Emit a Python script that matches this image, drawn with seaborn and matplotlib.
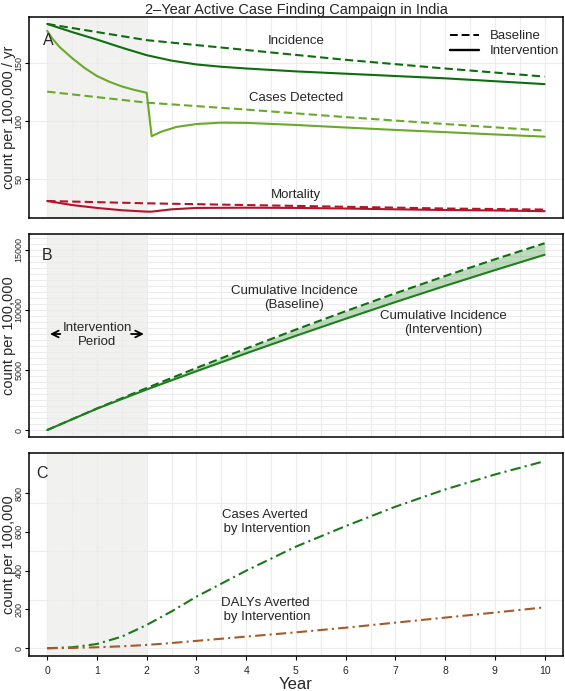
import numpy as np
import pandas as pd
import matplotlib
matplotlib.use("Agg")
import matplotlib.pyplot as plt
from matplotlib.lines import Line2D
import seaborn as sns

sns.set_theme(style="white")
plt.rcParams['font.family'] = ['Liberation Sans', 'DejaVu Sans']

# ---- panel A: annual rates ----
inc_base_t = [0, 2, 4, 6, 8, 10]
inc_base = [184, 170, 161.5, 153, 145.5, 138.5]
inc_int_t = [0, 0.5, 1, 1.5, 2, 2.5, 3, 3.5, 4, 5, 6, 7, 8, 9, 10]
inc_int = [184, 177, 170.5, 163.5, 157, 152.3, 149, 147, 145.5, 143, 141, 139, 137, 134.5, 132]

det_base_t = [0, 2, 4, 6, 8, 10]
det_base = [125.5, 116, 110, 103.5, 97.5, 91.8]
det_int_t = [0, 0.1, 0.25, 0.5, 0.75, 1, 1.25, 1.5, 1.75, 2, 2.1, 2.3, 2.6, 3, 3.5, 4, 5, 6, 7, 8, 9, 10]
det_int = [178, 171.5, 164, 154.5, 146, 139, 134, 130, 127, 124.5, 87, 91, 95, 97.5, 98.7, 98.5,
           96.7, 94.5, 92.4, 90.5, 88.5, 86.6]

mort_base_t = [0, 2, 4, 6, 8, 10]
mort_base = [31, 29, 27.5, 26, 24.5, 23.6]
mort_int_t = [0, 0.5, 1, 1.5, 2, 2.1, 2.5, 3, 4, 5, 6, 7, 8, 9, 10]
mort_int = [31, 27.5, 25, 23, 21.8, 21.8, 23.8, 25, 25.2, 25, 24.5, 23.8, 23.2, 22.8, 22.2]

# ---- panel B: cumulative incidence ----
years = list(range(11))
cum_base = [0, 1800, 3500, 5170, 6790, 8370, 9900, 11390, 12830, 14220, 15560]
cum_int = [0, 1780, 3380, 4900, 6390, 7850, 9270, 10660, 12010, 13320, 14600]

# ---- panel C: averted ----
avert_t = [0, 0.5, 1, 1.5, 2, 2.5, 3, 4, 5, 6, 7, 8, 9, 10]
cases_averted = [0, 5, 22, 60, 120, 190, 266, 400, 524, 630, 730, 819, 896, 965]
dalys_averted = [0, 1.5, 5, 10, 17, 27, 38, 60, 82, 106, 132, 158, 184, 211]

dark_green = '#0e6e0e'
light_green = '#69a92b'
red = '#b3142a'
brown = '#a65a28'
grid_col = '#ececec'
dash = (4, 2)
dashdot = (5, 2, 1, 2)

fig = plt.figure(figsize=(5.65, 6.91), dpi=100)
L, W = 29 / 565, 534 / 565
axA = fig.add_axes([L, 1 - 218 / 691, W, 201 / 691])
axB = fig.add_axes([L, 1 - 437 / 691, W, 203 / 691])
axC = fig.add_axes([L, 1 - 656 / 691, W, 203 / 691])


def line(ax, t, v, color, dashes=None, lw=1.5):
    df = pd.DataFrame({'t': t, 'v': v})
    sns.lineplot(data=df, x='t', y='v', ax=ax, color=color, lw=lw, zorder=3)
    if dashes is not None:
        ax.lines[-1].set_dashes(dashes)


def finish_axes(ax, ylim, hgrid, yticks, ylabel):
    ax.set_xlim(-0.366, 10.37)
    ax.set_ylim(*ylim)
    ax.axvspan(0, 2, color='#f1f1f0', zorder=0, lw=0)
    for xv in np.arange(0, 10.01, 0.5):
        ax.axvline(xv, color=grid_col, lw=0.8, zorder=0.5)
    for yv in hgrid:
        ax.axhline(yv, color=grid_col, lw=0.8, zorder=0.5)
    for s in ax.spines.values():
        s.set_color('black')
        s.set_linewidth(1.1)
    ax.tick_params(axis='y', which='major', direction='out', length=3, width=0.8,
                   color='black', labelsize=6.5, left=True, pad=1)
    ax.set_xticks(range(11))
    ax.set_yticks(yticks)
    ax.set_yticklabels([str(v) for v in yticks], rotation=90, va='center')
    ax.set_xlabel('')
    ax.set_ylabel(ylabel, fontsize=10.5)
    ax.yaxis.set_label_coords(-0.025, 0.5)


# panel A
line(axA, inc_base_t, inc_base, dark_green, dash)
line(axA, inc_int_t, inc_int, dark_green)
line(axA, det_base_t, det_base, light_green, dash)
line(axA, det_int_t, det_int, light_green)
line(axA, mort_base_t, mort_base, red, dash)
line(axA, mort_int_t, mort_int, red)
finish_axes(axA, (16.3, 190), [50, 100, 150], [50, 100, 150], 'count per 100,000 / yr')
axA.tick_params(axis='x', bottom=False, labelbottom=False)
axA.text(5, 169, 'Incidence', ha='center', va='center', fontsize=9.5)
axA.text(5, 119.7, 'Cases Detected', ha='center', va='center', fontsize=9.5)
axA.text(5, 36, 'Mortality', ha='center', va='center', fontsize=9.5)
axA.text(0.03, 170, 'A', ha='center', va='center', fontsize=11.5)
handles = [Line2D([0], [0], color='black', lw=1.4, dashes=dash),
           Line2D([0], [0], color='black', lw=1.7)]
axA.legend(handles, ['Baseline', 'Intervention'], loc='upper right', frameon=False,
           fontsize=9.5, handlelength=2.2, borderaxespad=0.3, labelspacing=0.2,
           bbox_to_anchor=(1.01, 0.98))
axA.set_title('2\u2013Year Active Case Finding Campaign in India', fontsize=10.5, pad=2)

# panel B
axB.fill_between(years, cum_int, cum_base, color='#2e8b2e', alpha=0.3, lw=0, zorder=2)
line(axB, years, cum_base, dark_green, dash)
line(axB, years, cum_int, '#1f7f1f')
finish_axes(axB, (-580, 16330), np.arange(0, 16001, 500), [0, 5000, 10000, 15000],
            'count per 100,000')
axB.tick_params(axis='x', bottom=False, labelbottom=False)
axB.text(4.96, 10970, 'Cumulative Incidence\n(Baseline)', ha='center', va='center',
         fontsize=9.5, linespacing=1.2)
axB.text(7.96, 8890, 'Cumulative Incidence\n(Intervention)', ha='center', va='center',
         fontsize=9.5, linespacing=1.2)
axB.text(0.0, 14580, 'B', ha='center', va='center', fontsize=11.5)
axB.text(1.0, 7900, 'Intervention\nPeriod', ha='center', va='center', fontsize=9.5,
         linespacing=1.2)
axB.annotate('', xy=(0, 8000), xytext=(0.32, 8000),
             arrowprops=dict(arrowstyle='->', color='black', lw=1.3))
axB.annotate('', xy=(2, 8000), xytext=(1.63, 8000),
             arrowprops=dict(arrowstyle='->', color='black', lw=1.3))

# panel C
line(axC, avert_t, cases_averted, '#1a7a1a', dashdot)
line(axC, avert_t, dalys_averted, brown, dashdot)
finish_axes(axC, (-40, 1007), [0, 250, 500, 750], [0, 200, 400, 600, 800],
            'count per 100,000')
axC.tick_params(axis='x', direction='out', length=3, width=0.8, color='black',
                labelsize=7.5, bottom=True, pad=4)
axC.set_xlabel('Year', fontsize=12, labelpad=1)
axC.text(4.38, 652, 'Cases Averted\n by Intervention', ha='center', va='center',
         fontsize=9.5, linespacing=1.2)
axC.text(4.38, 197, 'DALYs Averted\n by Intervention', ha='center', va='center',
         fontsize=9.5, linespacing=1.2)
axC.text(-0.1, 900, 'C', ha='center', va='center', fontsize=11.5)

fig.savefig('out.png', dpi=100)
